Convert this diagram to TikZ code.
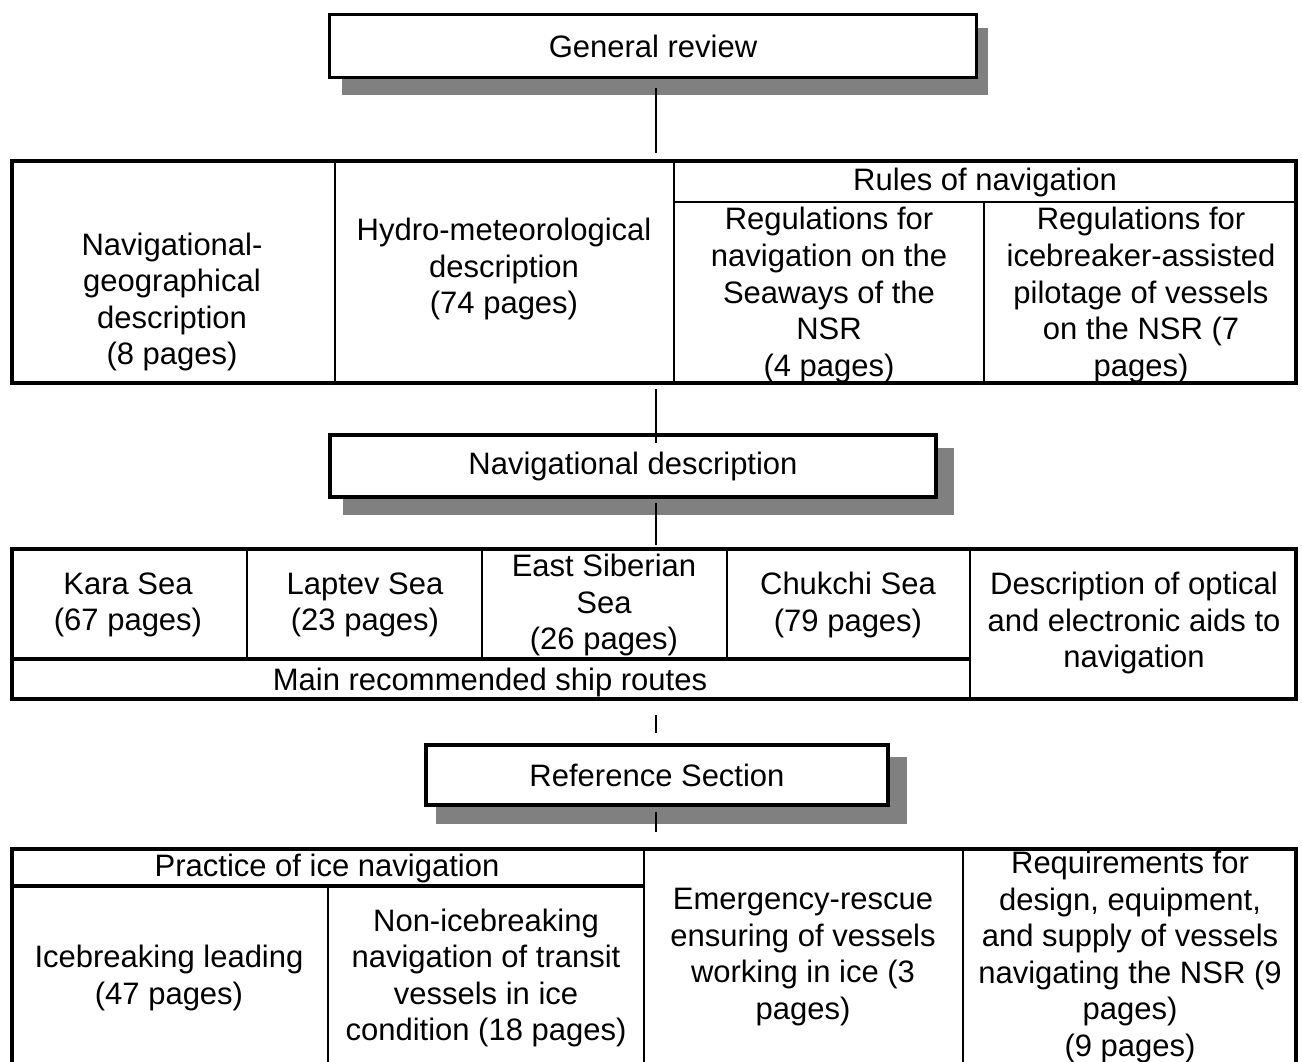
\documentclass[tikz,border=0pt]{standalone}
\usepackage{fontspec}
\setmainfont{Liberation Sans}
\usetikzlibrary{calc,backgrounds}
\definecolor{shadowgray}{HTML}{808080}
\begin{document}
\begin{tikzpicture}[x=1pt,y=-1pt,
  txt/.style={align=center,font=\fontsize{31}{36.6}\selectfont,inner sep=0pt},
  headbox/.style={draw,line width=3.5pt,fill=white,inner sep=0pt,align=center,font=\fontsize{31}{36.6}\selectfont},
  tbl/.style={draw,line width=4pt,inner sep=0pt},
  cell/.style={line width=2.2pt},
  subline/.style={line width=3.2pt},
  conn/.style={line width=1.3pt},
  shadowbox/.style={fill=shadowgray}]
\clip (0,0) rectangle (1302,1061);
\coordinate (spine) at (656,0);

% header boxes
\node[headbox,minimum width=647,minimum height=63] (gr) at (653,46) {General review};
\node[headbox,minimum width=606,minimum height=62] (nav) at (633,466) {Navigational description};
\node[headbox,minimum width=462,minimum height=60] (ref) at (657,775) {Reference Section};

\begin{scope}[on background layer]
  \fill[shadowbox] ($(gr.north west)+(14,15)$) rectangle ($(gr.south east)+(10,16)$);
  \fill[shadowbox] ($(nav.north west)+(15,15)$) rectangle ($(nav.south east)+(16,16)$);
  \fill[shadowbox] ($(ref.north west)+(12,14)$) rectangle ($(ref.south east)+(17,17)$);
\end{scope}

% table 1
\node[tbl,minimum width=1284,minimum height=222] (t1) at (654,272) {};
\draw[cell] (335,161) -- (335,383);
\draw[cell] (674,161) -- (674,383);
\draw[cell] (984,202) -- (984,383);
\draw[cell] (674,202) -- (1296,202);
\node[txt] (t1a) at (172,302) {Navigational-\\geographical\\description\\(8 pages)};
\node[txt] (t1b) at (504,269) {Hydro-meteorological\\description\\(74 pages)};
\node[txt] (t1r) at (985,182) {Rules of navigation};
\node[txt] (t1c) at (829,295) {Regulations for\\navigation on the\\Seaways of the\\NSR\\(4 pages)};
\node[txt] (t1d) at (1141,295) {Regulations for\\icebreaker-assisted\\pilotage of vessels\\on the NSR (7\\pages)};

% table 2
\node[tbl,minimum width=1284,minimum height=150] (t2) at (654,624) {};
\draw[cell] (247,549) -- (247,659);
\draw[cell] (482,549) -- (482,659);
\draw[cell] (727,549) -- (727,659);
\draw[cell] (970,549) -- (970,699);
\draw[subline] (12,659) -- (970,659);
\node[txt] (t2a) at (128,605) {Kara Sea\\(67 pages)};
\node[txt] (t2b) at (365,605) {Laptev Sea\\(23 pages)};
\node[txt] (t2c) at (604,605) {East Siberian\\Sea\\(26 pages)};
\node[txt] (t2d) at (848,605) {Chukchi Sea\\(79 pages)};
\node[txt] (t2e) at (1134,623) {Description of optical\\and electronic aids to\\navigation};
\node[txt] (t2f) at (490,682) {Main recommended ship routes};

% table 3
\node[tbl,minimum width=1284,minimum height=231] (t3) at (654,964.5) {};
\draw[cell] (644,849) -- (644,1080);
\draw[cell] (963,849) -- (963,1080);
\draw[cell] (328,886) -- (328,1080);
\draw[subline] (12,886) -- (644,886);
\node[txt] (t3p) at (327,868) {Practice of ice navigation};
\node[txt] (t3a) at (169,978) {Icebreaking leading\\(47 pages)};
\node[txt] (t3b) at (486,978) {Non-icebreaking\\navigation of transit\\vessels in ice\\condition (18 pages)};
\node[txt] (t3c) at (803,957) {Emergency-rescue\\ensuring of vessels\\working in ice (3\\pages)};
\node[txt] (t3d) at (1130,957) {Requirements for\\design, equipment,\\and supply of vessels\\navigating the NSR (9\\pages)\\(9 pages)};

% connectors
\draw[conn] ($(gr.south -| spine)+(0,9)$) -- ($(t1.north -| spine)+(0,-6)$);
\draw[conn] ($(t1.south -| spine)+(0,4)$) -- ($(nav.north -| spine)+(0,10)$);
\draw[conn] ($(nav.south -| spine)+(0,4)$) -- ($(t2.north -| spine)+(0,-2)$);
\draw[conn] ($(t2.south -| spine)+(0,14)$) -- ($(ref.north -| spine)+(0,-10)$);
\draw[conn] ($(ref.south -| spine)+(0,5)$) -- ($(t3.north -| spine)+(0,-15)$);
\end{tikzpicture}
\end{document}
